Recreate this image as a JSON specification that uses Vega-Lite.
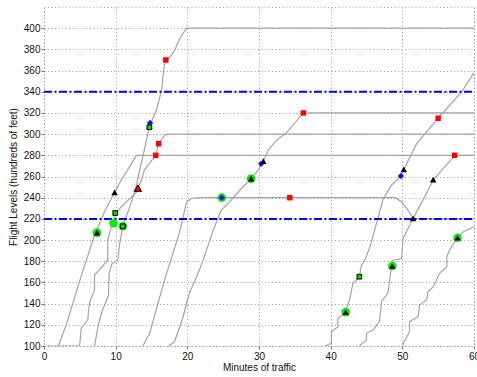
{
  "$schema": "https://vega.github.io/schema/vega-lite/v6.json",
  "width": 430,
  "height": 339,
  "autosize": "none",
  "padding": {"left": 44, "top": 7, "right": 3, "bottom": 31},
  "background": "white",
  "config": {
    "view": {"stroke": "#aaa", "strokeDash": [1, 2.5], "strokeWidth": 1},
    "font": "Liberation Sans",
    "axis": {
      "labelFont": "Liberation Sans", "labelFontSize": 10, "labelColor": "#111",
      "titleFont": "Liberation Sans", "titleFontSize": 10, "titleFontWeight": "normal", "titleColor": "#111",
      "domain": false, "tickSize": 3, "tickColor": "#777",
      "grid": true, "gridDash": [1, 2.5], "gridColor": "#999", "gridOpacity": 1, "gridWidth": 1
    }
  },
  "datasets": {
    "lines": [
      {"id": 1, "i": 0, "t": 0.3, "v": 100}, {"id": 1, "i": 1, "t": 2.0, "v": 100}, {"id": 1, "i": 2, "t": 3.1, "v": 120}, {"id": 1, "i": 3, "t": 5.0, "v": 162}, {"id": 1, "i": 4, "t": 7.05, "v": 205}, {"id": 1, "i": 5, "t": 8.6, "v": 229}, {"id": 1, "i": 6, "t": 9.85, "v": 245}, {"id": 1, "i": 7, "t": 10.8, "v": 257}, {"id": 1, "i": 8, "t": 12.0, "v": 270}, {"id": 1, "i": 9, "t": 12.9, "v": 280}, {"id": 1, "i": 10, "t": 60, "v": 280},
      {"id": 2, "i": 0, "t": 2.0, "v": 100}, {"id": 2, "i": 1, "t": 4.9, "v": 100}, {"id": 2, "i": 2, "t": 5.0, "v": 102}, {"id": 2, "i": 3, "t": 5.2, "v": 117}, {"id": 2, "i": 4, "t": 6.1, "v": 124.5}, {"id": 2, "i": 5, "t": 6.35, "v": 141}, {"id": 2, "i": 6, "t": 7.05, "v": 153}, {"id": 2, "i": 7, "t": 7.05, "v": 167}, {"id": 2, "i": 8, "t": 8.0, "v": 174}, {"id": 2, "i": 9, "t": 8.9, "v": 181}, {"id": 2, "i": 10, "t": 8.9, "v": 200}, {"id": 2, "i": 11, "t": 9.4, "v": 212.5}, {"id": 2, "i": 12, "t": 9.75, "v": 216}, {"id": 2, "i": 13, "t": 9.94, "v": 225.5}, {"id": 2, "i": 14, "t": 11.5, "v": 236}, {"id": 2, "i": 15, "t": 12.9, "v": 245}, {"id": 2, "i": 16, "t": 13.3, "v": 252}, {"id": 2, "i": 17, "t": 13.6, "v": 257}, {"id": 2, "i": 18, "t": 14.0, "v": 266}, {"id": 2, "i": 19, "t": 15.0, "v": 275}, {"id": 2, "i": 20, "t": 15.6, "v": 280}, {"id": 2, "i": 21, "t": 16.0, "v": 291}, {"id": 2, "i": 22, "t": 16.6, "v": 297}, {"id": 2, "i": 23, "t": 17.1, "v": 300}, {"id": 2, "i": 24, "t": 60, "v": 300},
      {"id": 3, "i": 0, "t": 7.05, "v": 100}, {"id": 3, "i": 1, "t": 7.5, "v": 117}, {"id": 3, "i": 2, "t": 8.0, "v": 131}, {"id": 3, "i": 3, "t": 9.0, "v": 148}, {"id": 3, "i": 4, "t": 9.1, "v": 169}, {"id": 3, "i": 5, "t": 9.5, "v": 178}, {"id": 3, "i": 6, "t": 10.3, "v": 181}, {"id": 3, "i": 7, "t": 10.5, "v": 194}, {"id": 3, "i": 8, "t": 11.0, "v": 213}, {"id": 3, "i": 9, "t": 12.0, "v": 232}, {"id": 3, "i": 10, "t": 12.9, "v": 251}, {"id": 3, "i": 11, "t": 13.2, "v": 262}, {"id": 3, "i": 12, "t": 13.8, "v": 279}, {"id": 3, "i": 13, "t": 14.7, "v": 307}, {"id": 3, "i": 14, "t": 15.7, "v": 323}, {"id": 3, "i": 15, "t": 16.4, "v": 341}, {"id": 3, "i": 16, "t": 16.8, "v": 366}, {"id": 3, "i": 17, "t": 17.1, "v": 370}, {"id": 3, "i": 18, "t": 17.8, "v": 374.5}, {"id": 3, "i": 19, "t": 18.2, "v": 379}, {"id": 3, "i": 20, "t": 19.0, "v": 391}, {"id": 3, "i": 21, "t": 19.9, "v": 400}, {"id": 3, "i": 22, "t": 60, "v": 400},
      {"id": 4, "i": 0, "t": 13.8, "v": 100}, {"id": 4, "i": 1, "t": 14.4, "v": 108}, {"id": 4, "i": 2, "t": 14.7, "v": 111}, {"id": 4, "i": 3, "t": 15.4, "v": 128}, {"id": 4, "i": 4, "t": 16.8, "v": 162}, {"id": 4, "i": 5, "t": 18.9, "v": 207}, {"id": 4, "i": 6, "t": 19.9, "v": 236}, {"id": 4, "i": 7, "t": 20.6, "v": 239.5}, {"id": 4, "i": 8, "t": 22, "v": 240}, {"id": 4, "i": 9, "t": 49, "v": 240}, {"id": 4, "i": 10, "t": 49.9, "v": 236}, {"id": 4, "i": 11, "t": 50.8, "v": 228}, {"id": 4, "i": 12, "t": 51.5, "v": 220.5}, {"id": 4, "i": 13, "t": 60, "v": 220},
      {"id": 5, "i": 0, "t": 17.4, "v": 100}, {"id": 5, "i": 1, "t": 18.2, "v": 104}, {"id": 5, "i": 2, "t": 19.3, "v": 125}, {"id": 5, "i": 3, "t": 20.3, "v": 150}, {"id": 5, "i": 4, "t": 21.7, "v": 172}, {"id": 5, "i": 5, "t": 22.2, "v": 181}, {"id": 5, "i": 6, "t": 23.6, "v": 209}, {"id": 5, "i": 7, "t": 24.7, "v": 228}, {"id": 5, "i": 8, "t": 25.9, "v": 236}, {"id": 5, "i": 9, "t": 27.3, "v": 247}, {"id": 5, "i": 10, "t": 28.9, "v": 258}, {"id": 5, "i": 11, "t": 29.9, "v": 266}, {"id": 5, "i": 12, "t": 30.3, "v": 272}, {"id": 5, "i": 13, "t": 30.6, "v": 274.5}, {"id": 5, "i": 14, "t": 31.3, "v": 285}, {"id": 5, "i": 15, "t": 32.4, "v": 294}, {"id": 5, "i": 16, "t": 33.8, "v": 301}, {"id": 5, "i": 17, "t": 35.2, "v": 312}, {"id": 5, "i": 18, "t": 36.1, "v": 319.5}, {"id": 5, "i": 19, "t": 37, "v": 320}, {"id": 5, "i": 20, "t": 60, "v": 320},
      {"id": 6, "i": 0, "t": 39.2, "v": 100}, {"id": 6, "i": 1, "t": 40.1, "v": 102.5}, {"id": 6, "i": 2, "t": 40.1, "v": 113.5}, {"id": 6, "i": 3, "t": 41.0, "v": 118}, {"id": 6, "i": 4, "t": 41.0, "v": 126}, {"id": 6, "i": 5, "t": 41.97, "v": 131}, {"id": 6, "i": 6, "t": 42.7, "v": 145}, {"id": 6, "i": 7, "t": 43.1, "v": 159}, {"id": 6, "i": 8, "t": 44.0, "v": 165.4}, {"id": 6, "i": 9, "t": 44.3, "v": 176.4}, {"id": 6, "i": 10, "t": 44.8, "v": 181.4}, {"id": 6, "i": 11, "t": 45.5, "v": 194}, {"id": 6, "i": 12, "t": 46.4, "v": 216}, {"id": 6, "i": 13, "t": 47.3, "v": 238}, {"id": 6, "i": 14, "t": 48.5, "v": 252}, {"id": 6, "i": 15, "t": 49.8, "v": 260.5}, {"id": 6, "i": 16, "t": 50.2, "v": 266.7}, {"id": 6, "i": 17, "t": 52.0, "v": 291}, {"id": 6, "i": 18, "t": 55.0, "v": 315}, {"id": 6, "i": 19, "t": 58.3, "v": 340}, {"id": 6, "i": 20, "t": 60, "v": 358},
      {"id": 7, "i": 0, "t": 44.0, "v": 100}, {"id": 7, "i": 1, "t": 45.0, "v": 105.7}, {"id": 7, "i": 2, "t": 45.0, "v": 112}, {"id": 7, "i": 3, "t": 45.9, "v": 115}, {"id": 7, "i": 4, "t": 46.8, "v": 123}, {"id": 7, "i": 5, "t": 47.1, "v": 142}, {"id": 7, "i": 6, "t": 48.0, "v": 150}, {"id": 7, "i": 7, "t": 48.5, "v": 176.4}, {"id": 7, "i": 8, "t": 48.7, "v": 181}, {"id": 7, "i": 9, "t": 49.9, "v": 182.5}, {"id": 7, "i": 10, "t": 50.1, "v": 201.6}, {"id": 7, "i": 11, "t": 51.5, "v": 220.5}, {"id": 7, "i": 12, "t": 52.9, "v": 238}, {"id": 7, "i": 13, "t": 54.3, "v": 256.6}, {"id": 7, "i": 14, "t": 55.5, "v": 266}, {"id": 7, "i": 15, "t": 57.3, "v": 279.2}, {"id": 7, "i": 16, "t": 58, "v": 280}, {"id": 7, "i": 17, "t": 60, "v": 280},
      {"id": 8, "i": 0, "t": 50.1, "v": 100}, {"id": 8, "i": 1, "t": 50.1, "v": 102}, {"id": 8, "i": 2, "t": 51.0, "v": 113.5}, {"id": 8, "i": 3, "t": 51.0, "v": 123}, {"id": 8, "i": 4, "t": 52.2, "v": 127.6}, {"id": 8, "i": 5, "t": 52.4, "v": 138.7}, {"id": 8, "i": 6, "t": 53.4, "v": 143.4}, {"id": 8, "i": 7, "t": 53.6, "v": 151.2}, {"id": 8, "i": 8, "t": 54.3, "v": 156}, {"id": 8, "i": 9, "t": 55.2, "v": 168.6}, {"id": 8, "i": 10, "t": 56.2, "v": 174.8}, {"id": 8, "i": 11, "t": 56.2, "v": 184.3}, {"id": 8, "i": 12, "t": 56.6, "v": 190.6}, {"id": 8, "i": 13, "t": 57.7, "v": 202.2}, {"id": 8, "i": 14, "t": 58.5, "v": 207.8}, {"id": 8, "i": 15, "t": 60, "v": 212.6}
    ],
    "limits": [{"g": 1, "t": 0, "v": 220}, {"g": 1, "t": 60, "v": 220}, {"g": 2, "t": 0, "v": 340}, {"g": 2, "t": 60, "v": 340}],
    "greenCircles": [{"t": 7.4, "v": 207}, {"t": 9.7, "v": 216}, {"t": 11.0, "v": 213}, {"t": 24.8, "v": 240}, {"t": 28.9, "v": 258}, {"t": 42.1, "v": 132}, {"t": 48.6, "v": 175.5}, {"t": 57.7, "v": 202.2}],
    "blueMarks": [{"t": 24.8, "v": 240}, {"t": 30.3, "v": 272}, {"t": 14.8, "v": 310.5}, {"t": 49.8, "v": 260.5}],
    "blackTriangles": [{"t": 7.4, "v": 207}, {"t": 9.85, "v": 245}, {"t": 14.7, "v": 307.5}, {"t": 28.9, "v": 258}, {"t": 30.6, "v": 274.5}, {"t": 42.1, "v": 132}, {"t": 48.6, "v": 175.5}, {"t": 57.7, "v": 202.2}, {"t": 50.2, "v": 266.7}, {"t": 51.5, "v": 220.5}, {"t": 54.3, "v": 257}],
    "redTriangles": [{"t": 13.1, "v": 249}],
    "redSquares": [{"t": 17.0, "v": 370}, {"t": 15.6, "v": 280}, {"t": 16.0, "v": 291}, {"t": 34.3, "v": 240}, {"t": 36.2, "v": 320}, {"t": 55.0, "v": 315}, {"t": 57.3, "v": 280}],
    "greenSquares": [{"t": 9.94, "v": 225.5}, {"t": 11.0, "v": 213}, {"t": 14.7, "v": 306.5}, {"t": 44.0, "v": 165.4}]
  },
  "encoding": {
    "x": {"field": "t", "type": "quantitative", "scale": {"domain": [0, 60], "nice": false},
      "axis": {"title": "Minutes of traffic", "values": [0, 10, 20, 30, 40, 50, 60], "labelPadding": 2, "titlePadding": 1, "labelFlush": false}},
    "y": {"field": "v", "type": "quantitative", "scale": {"domain": [100, 420], "nice": false, "zero": false},
      "axis": {"title": "Flight Levels (hundreds of feet)", "values": [100, 120, 140, 160, 180, 200, 220, 240, 260, 280, 300, 320, 340, 360, 380, 400], "labelPadding": 1, "titlePadding": 5, "labelFlush": false}}
  },
  "layer": [
    {"data": {"name": "lines"}, "mark": {"type": "line", "color": "#a4a4a4", "strokeWidth": 1.2, "clip": true},
      "encoding": {"detail": {"field": "id"}, "order": {"field": "i", "type": "quantitative"}}},
    {"data": {"name": "limits"}, "mark": {"type": "line", "color": "#0000ff", "strokeWidth": 2, "strokeDash": [8, 2.5, 2, 2.5]},
      "encoding": {"detail": {"field": "g"}}},
    {"data": {"name": "greenCircles"}, "mark": {"type": "point", "shape": "circle", "filled": true, "color": "#00ee00", "size": 75, "opacity": 1}},
    {"data": {"name": "blueMarks"}, "mark": {"type": "point", "shape": "diamond", "filled": true, "color": "#1010ff", "size": 40, "opacity": 1}},
    {"data": {"name": "blackTriangles"}, "mark": {"type": "point", "shape": "triangle-up", "filled": true, "color": "#000000", "size": 42, "opacity": 1}},
    {"data": {"name": "redTriangles"}, "mark": {"type": "point", "shape": "triangle-up", "filled": true, "fill": "#ff0000", "stroke": "#000000", "strokeWidth": 1, "size": 55, "opacity": 1}},
    {"data": {"name": "redSquares"}, "mark": {"type": "point", "shape": "square", "filled": true, "color": "#ff0000", "size": 30, "opacity": 1}},
    {"data": {"name": "greenSquares"}, "mark": {"type": "point", "shape": "square", "filled": true, "fill": "#00dd00", "stroke": "#000000", "strokeWidth": 1, "size": 22, "opacity": 1}}
  ]
}
